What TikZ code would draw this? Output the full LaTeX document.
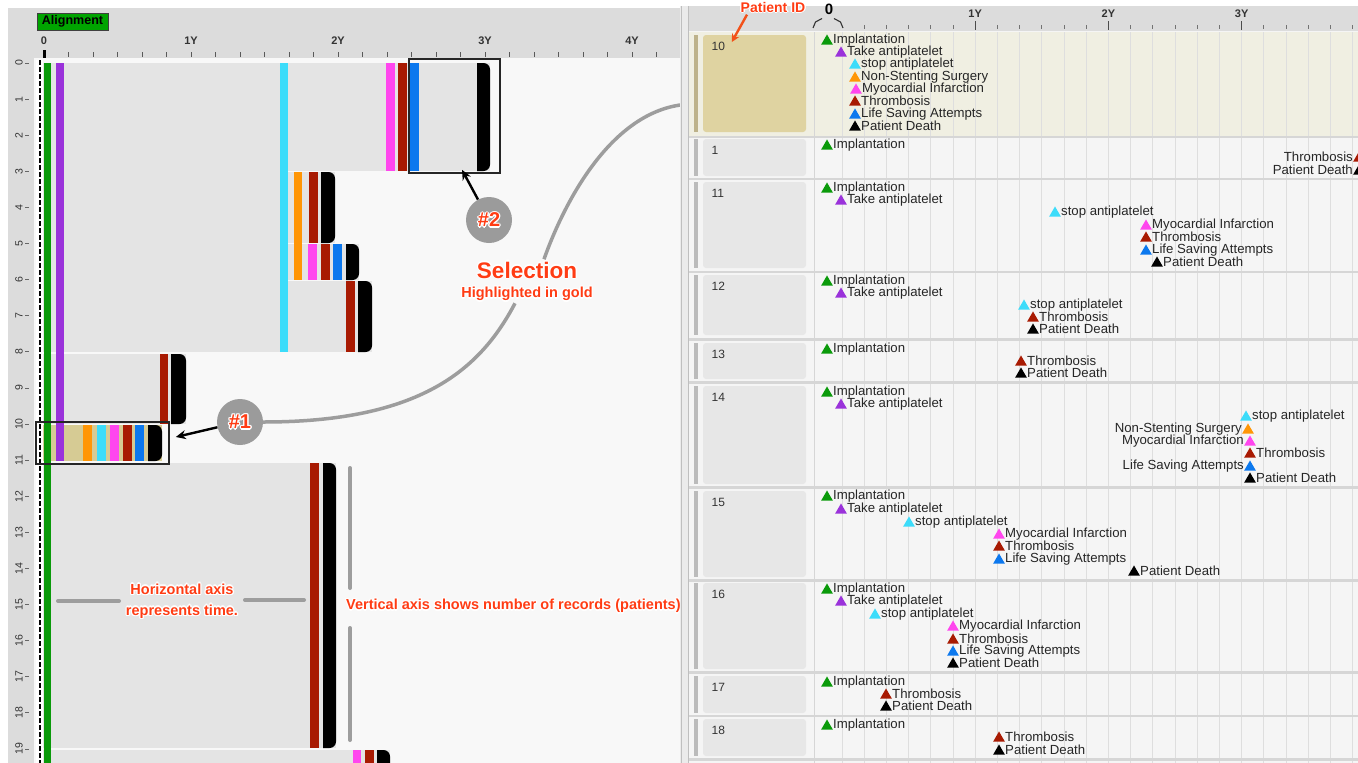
\documentclass[tikz,border=0pt]{standalone}
\usepackage{fontspec}
\setmainfont{Liberation Sans}
\usetikzlibrary{shapes.geometric,arrows.meta}

% palette
\definecolor{hdrgray}{HTML}{DCDCDC}
\definecolor{plotbg}{HTML}{F8F8F8}
\definecolor{grpgray}{HTML}{E4E4E4}
\definecolor{algreen}{HTML}{00A400}
\definecolor{evgreen}{HTML}{0A9A0A}
\definecolor{evpurple}{HTML}{9A32DA}
\definecolor{evcyan}{HTML}{3CDCFA}
\definecolor{evorange}{HTML}{FF9606}
\definecolor{evpink}{HTML}{FF46EE}
\definecolor{evred}{HTML}{A81A02}
\definecolor{evblue}{HTML}{0C78EE}
\definecolor{selgold}{HTML}{D6CB94}
\definecolor{idgold}{HTML}{DFD3A1}
\definecolor{bargold}{HTML}{BDB28A}
\definecolor{cream}{HTML}{F0EFE2}
\definecolor{rowbg}{HTML}{F5F5F5}
\definecolor{idgray}{HTML}{E7E7E7}
\definecolor{bargray}{HTML}{BBBBBB}
\definecolor{gridc}{HTML}{DEDEDE}
\definecolor{sepc}{HTML}{D6D6D6}
\definecolor{note}{HTML}{FF3C14}
\definecolor{bubblec}{HTML}{9B9B9B}
\definecolor{guide}{HTML}{9D9D9D}
\definecolor{pidarrow}{HTML}{F2511A}

% text with a white halo around it
\newcommand\hcp[2]{\rlap{\kern#1\raise#2\copy0}}
\newcommand\halo[1]{{\setbox0=\hbox{#1}%
  \rlap{\color{white}\hcp{1.3pt}{0pt}\hcp{-1.3pt}{0pt}\hcp{0pt}{1.3pt}\hcp{0pt}{-1.3pt}%
    \hcp{0.9pt}{0.9pt}\hcp{-0.9pt}{0.9pt}\hcp{0.9pt}{-0.9pt}\hcp{-0.9pt}{-0.9pt}}%
  \copy0}}

% final bar of a sequence, rounded on its right side
\newcommand\roundbar[4]{\fill[black] (#1,#2) -- ({#3-6.5},#2)
  .. controls ({#3-2.9},#2) and (#3,{#2+2.9}) .. (#3,{#2+6.5})
  -- (#3,{#4-6.5}) .. controls (#3,{#4-2.9}) and ({#3-2.9},#4) .. ({#3-6.5},#4) -- (#1,#4) -- cycle;}

% events of a record: triangle marker with its label right or left of it
\newcount\evcount
\newcommand\evR[4]{\global\advance\evcount by 1\relax
  \node[evtri, fill=#3] (tri\the\evcount) at (#1,{#2+1.2}) {};
  \node[evlab, anchor=west] (lab\the\evcount) at ({#1+5.5},#2) {#4};}
\newcommand\evL[4]{\global\advance\evcount by 1\relax
  \node[evtri, fill=#3] (tri\the\evcount) at (#1,{#2+1.2}) {};
  \node[evlab, anchor=east] (lab\the\evcount) at ({#1-5.5},#2) {#4};}

% record row header: name, top, bottom, id, box colour, bar colour
\newcommand\prow[6]{%
  \fill[#6] (693.5,#2) rectangle (697.5,#3);
  \fill[#5, rounded corners=3pt] (703,#2) rectangle (806,#3);
  \node[idlab, anchor=west] (#1) at (711,{#2+11}) {#4};}

\begin{document}
\begin{tikzpicture}[x=1pt,y=-1pt,
  evtri/.style={regular polygon, regular polygon sides=3, minimum size=13.5pt, inner sep=0pt},
  evlab/.style={font=\fontsize{13.2}{13.2}\selectfont, text=black!85, inner sep=0.5pt},
  idlab/.style={font=\fontsize{12}{12}\selectfont, text=black!80, inner sep=0.5pt},
  rowlab/.style={rotate=90, font=\fontsize{10.5}{10.5}\selectfont, text=black!80, inner sep=0pt},
  axlab/.style={font=\bfseries\fontsize{11}{11}\selectfont, text=black!80, inner sep=0pt},
  note/.style={text=note, font=\bfseries\fontsize{14.5}{21}\selectfont, align=center, inner sep=1pt},
  bubble/.style={circle, fill=bubblec, minimum size=46pt, inner sep=0pt, text=note,
    font=\bfseries\fontsize{20}{20}\selectfont},
  callout/.style={-{Stealth[length=10pt,width=9pt]}, line width=2.4pt},
  guideline/.style={draw=guide, line width=4pt, line cap=round},
  selbox/.style={draw=black!85, line width=1.6pt, inner sep=0pt}]
\useasboundingbox (0,0) rectangle (1358,763);
\fill[white] (0,0) rectangle (1358,763);

% ================= alignment view =================
\fill[hdrgray] (8,8) rectangle (680,58);
\fill[hdrgray] (8,58) rectangle (34,763);
\fill[plotbg] (34,58) rectangle (680,763);
\fill[white] (36,60) rectangle (43,763);

% aggregated record groups
\fill[grpgray] (43,63) rectangle (287,352);
\fill[grpgray] (287,63) rectangle (490,171);
\fill[grpgray] (287,172) rectangle (335,243);
\fill[grpgray] (287,244) rectangle (359,280);
\fill[grpgray] (287,281) rectangle (372,352);
\fill[grpgray] (43,354) rectangle (186,424);
\fill[selgold] (43,425) rectangle (162,461);
\fill[grpgray] (43,463) rectangle (336,748);
\fill[grpgray] (43,750) rectangle (390,763);

% event bars
\fill[evgreen] (44,63) rectangle (51,763);
\fill[evpurple] (56,63) rectangle (64,461);
\fill[evcyan] (280,63) rectangle (288,352);
\fill[evpink] (386,63) rectangle (395,171);
\fill[evred] (398,63) rectangle (407,171);
\fill[evblue] (410,63) rectangle (419,171);
\roundbar{477}{63}{490}{171}
\fill[evorange] (294,172) rectangle (302,280);
\fill[evred] (309,172) rectangle (318,243);
\roundbar{321}{172}{335}{243}
\fill[evpink] (308,244) rectangle (317,280);
\fill[evred] (321,244) rectangle (330,280);
\fill[evblue] (333,244) rectangle (342,280);
\roundbar{346}{244}{359}{280}
\fill[evred] (346,281) rectangle (355,352);
\roundbar{358}{281}{372}{352}
\fill[evred] (160,354) rectangle (168,424);
\roundbar{171}{354}{186}{424}
\fill[evorange] (83,425) rectangle (92,461);
\fill[evcyan] (97,425) rectangle (106,461);
\fill[evpink] (110,425) rectangle (119,461);
\fill[evred] (123,425) rectangle (132,461);
\fill[evblue] (135,425) rectangle (144,461);
\roundbar{148}{425}{162}{461}
\fill[evred] (310,463) rectangle (319,748);
\roundbar{323}{463}{336}{748}
\fill[evpink] (353,750) rectangle (361,770);
\fill[evred] (365,750) rectangle (374,770);
\roundbar{377}{750}{390}{775}

% alignment line
\draw[black, line width=2.4pt, dash pattern=on 4.5pt off 2.5pt] (40,60) -- (40,763);

% record numbers
\foreach \k in {0,...,19} {
  \node[rowlab] (rl\k) at (19,{63+36.1*\k}) {\k};
  \draw[black!60, line width=0.8pt] (25,{63+36.1*\k}) -- (29,{63+36.1*\k});
}

% time axis
\node[draw=black!75, fill=algreen, line width=0.8pt, minimum width=71pt, minimum height=17pt,
  inner sep=0pt, font=\bfseries\fontsize{12.5}{12.5}\selectfont] (alignbtn) at (72.5,21.5) {Alignment};
\foreach \t/\lab in {0/0,1/1Y,2/2Y,3/3Y,4/4Y}
  \node[axlab] (lx\t) at ({44+147*\t},41) {\lab};
\foreach \i in {1,...,25}
  \draw[black!65, line width=0.8pt] ({44+24.5*\i},52) -- ++(0,5);
\fill[black] (43,50) rectangle (45.5,58);

% selections
\node[selbox, minimum width=133pt, minimum height=42pt] (sel1) at (102.5,443) {};
\node[selbox, minimum width=91pt, minimum height=114pt] (sel2) at (454.5,116) {};
\node[bubble] (b1) at (240,422) {\halo{\#1}};
\node[bubble] (b2) at (489,220) {\halo{\#2}};
\draw[callout] (b1) -- ([xshift=6pt,yshift=6pt]sel1.east);
\draw[callout] (b2) -- ([xshift=7.5pt,yshift=4pt]sel2.south);

\node[note, font=\bfseries\fontsize{22.5}{22.5}\selectfont] (seltitle) at (527,270) {\halo{Selection}};
\node[note] (selsub) at (527,294) {\halo{Highlighted in gold}};
\coordinate (selend) at (694,104);
\draw[guide, line width=3.5pt] (b1.east) .. controls (420,422) and (480,370) .. ([xshift=-12pt]selsub.south);
\draw[guide, line width=3.5pt] ([xshift=17pt]seltitle.north) .. controls (565,200) and (615,104) .. (selend);

% axis notes
\node[note] (htext) at (182,601) {\halo{Horizontal axis}\\\halo{represents time.}};
\coordinate (hl1) at (58,601);
\coordinate (hl2) at (119,601);
\coordinate (hr1) at (245,600);
\coordinate (hr2) at (304,600);
\draw[guideline] (hl1) -- (hl2);
\draw[guideline] (hr1) -- (hr2);
\node[note, anchor=west] (vtext) at (345,606) {\halo{Vertical axis shows number of records (patients).}};
\coordinate (vt1) at (350,468);
\coordinate (vt2) at (350,588);
\coordinate (vb1) at (350,628);
\coordinate (vb2) at (350,740);
\draw[guideline] (vt1) -- (vt2);
\draw[guideline] (vb1) -- (vb2);

% ================= divider =================
\fill[black!8] (680,6) rectangle (689,763);
\draw[black!25, line width=0.8pt] (681,6) -- (681,763);
\draw[black!25, line width=0.8pt] (688.5,6) -- (688.5,763);

% ================= record list =================
\fill[hdrgray] (689,6) rectangle (1358,31);
\fill[rowbg] (689,31) rectangle (1358,763);
\fill[cream] (689,32) rectangle (1358,136);
\foreach \k in {0,...,23}
  \draw[gridc, line width=0.9pt] ({842+22.2*\k},32) -- ({842+22.2*\k},763);
\draw[sepc, line width=1pt] (814,32) -- (814,763);
\foreach \y in {137,179,272,339.5,382.5,487.5,580.5,672.5,716,759.5}
  \draw[sepc, line width=2.2pt] (689,\y) -- (1358,\y);

% time axis of the list
\node[font=\bfseries\fontsize{15}{15}\selectfont, inner sep=0pt] (rx0) at (829,9) {0};
\draw[black!80, line width=1.1pt] (813,28) -- (815.5,22) -- (822,18.5);
\draw[black!80, line width=1.1pt] (843,28) -- (840.5,22) -- (834,18.5);
\foreach \t/\lab in {1/1Y,2/2Y,3/3Y}
  \node[axlab] (rx\t) at ({842+133.2*\t},14) {\lab};
\foreach \k in {1,...,23}
  \draw[black!55, line width=0.8pt] ({842+22.2*\k},25) -- ++(0,4);
\foreach \t in {1,2,3}
  \draw[black!70, line width=0.9pt] ({842+133.2*\t},21) -- ++(0,9);

% rows
\prow{id10}{35}{132}{10}{idgold}{bargold}
\prow{id1}{139}{176}{1}{idgray}{bargray}
\prow{id11}{182}{268}{11}{idgray}{bargray}
\prow{id12}{275}{335}{12}{idgray}{bargray}
\prow{id13}{343}{379}{13}{idgray}{bargray}
\prow{id14}{386}{484}{14}{idgray}{bargray}
\prow{id15}{491}{577}{15}{idgray}{bargray}
\prow{id16}{583}{669}{16}{idgray}{bargray}
\prow{id17}{676}{713}{17}{idgray}{bargray}
\prow{id18}{719}{756}{18}{idgray}{bargray}

% record 10
\evR{827}{40}{evgreen}{Implantation}
\evR{841}{52}{evpurple}{Take antiplatelet}
\evR{855}{64}{evcyan}{stop antiplatelet}
\evR{855}{77}{evorange}{Non-Stenting Surgery}
\evR{856}{89}{evpink}{Myocardial Infarction}
\evR{855}{101}{evred}{Thrombosis}
\evR{855}{114}{evblue}{Life Saving Attempts}
\evR{855}{126}{black}{Patient Death}
% record 1
\evR{827}{145}{evgreen}{Implantation}
\evL{1359}{157}{evred}{Thrombosis}
\evL{1359}{170}{black}{Patient Death}
% record 11
\evR{827}{188}{evgreen}{Implantation}
\evR{841}{200}{evpurple}{Take antiplatelet}
\evR{1055}{212}{evcyan}{stop antiplatelet}
\evR{1146}{225}{evpink}{Myocardial Infarction}
\evR{1146}{237}{evred}{Thrombosis}
\evR{1146}{250}{evblue}{Life Saving Attempts}
\evR{1157}{262}{black}{Patient Death}
% record 12
\evR{827}{281}{evgreen}{Implantation}
\evR{841}{293}{evpurple}{Take antiplatelet}
\evR{1024}{305}{evcyan}{stop antiplatelet}
\evR{1033}{317}{evred}{Thrombosis}
\evR{1033}{329}{black}{Patient Death}
% record 13
\evR{827}{349}{evgreen}{Implantation}
\evR{1021}{361}{evred}{Thrombosis}
\evR{1021}{373}{black}{Patient Death}
% record 14
\evR{827}{392}{evgreen}{Implantation}
\evR{841}{404}{evpurple}{Take antiplatelet}
\evR{1246}{416}{evcyan}{stop antiplatelet}
\evL{1248}{429}{evorange}{Non-Stenting Surgery}
\evL{1250}{441}{evpink}{Myocardial Infarction}
\evR{1250}{453}{evred}{Thrombosis}
\evL{1250}{466}{evblue}{Life Saving Attempts}
\evR{1250}{478}{black}{Patient Death}
% record 15
\evR{827}{496}{evgreen}{Implantation}
\evR{841}{509}{evpurple}{Take antiplatelet}
\evR{909}{522}{evcyan}{stop antiplatelet}
\evR{999}{534}{evpink}{Myocardial Infarction}
\evR{999}{546}{evred}{Thrombosis}
\evR{999}{559}{evblue}{Life Saving Attempts}
\evR{1134}{571}{black}{Patient Death}
% record 16
\evR{827}{589}{evgreen}{Implantation}
\evR{841}{601}{evpurple}{Take antiplatelet}
\evR{875}{614}{evcyan}{stop antiplatelet}
\evR{953}{626}{evpink}{Myocardial Infarction}
\evR{953}{639}{evred}{Thrombosis}
\evR{953}{651}{evblue}{Life Saving Attempts}
\evR{953}{663}{black}{Patient Death}
% record 17
\evR{827}{682}{evgreen}{Implantation}
\evR{886}{694}{evred}{Thrombosis}
\evR{886}{706}{black}{Patient Death}
% record 18
\evR{827}{725}{evgreen}{Implantation}
\evR{999}{737}{evred}{Thrombosis}
\evR{999}{750}{black}{Patient Death}

% id column callout
\node[text=note, font=\bfseries\fontsize{14}{14}\selectfont, inner sep=1pt] (pid) at (773,7) {\halo{Patient ID}};
\draw[pidarrow, -{Stealth[length=8pt,width=8pt]}, line width=2.4pt]
  ([xshift=-26pt]pid.south) -- ([xshift=6pt,yshift=-1pt]id10.north east);
\end{tikzpicture}
\end{document}
